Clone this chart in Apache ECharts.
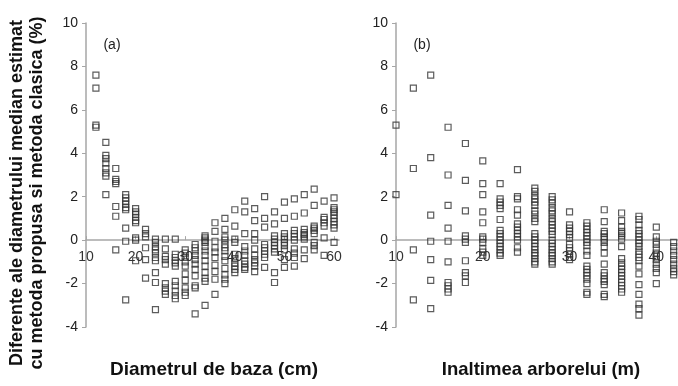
<!DOCTYPE html>
<html>
<head>
<meta charset="utf-8">
<script src="https://cdn.jsdelivr.net/npm/echarts@6/dist/echarts.min.js"></script>
<style>
  html, body { margin: 0; padding: 0; background: #fff; }
  #chart { width: 678px; height: 386px; }
</style>
</head>
<body>
<div id="chart"></div>
<script>
// Panel (a): base diameter classes (cm) and the differences (%) observed in each class
const diameterClasses = [12, 14, 16, 18, 20, 22, 24, 26, 28, 30, 32, 34, 36, 38, 40, 42, 44, 46, 48, 50, 52, 54, 56, 58, 60];
const diameterDiffs = [
  [7.6, 7.0, 5.3, 5.2],
  [4.5, 3.9, 3.75, 3.55, 3.3, 3.1, 2.95, 2.1],
  [3.3, 2.8, 2.7, 2.6, 1.55, 1.1, -0.45],
  [2.1, 1.95, 1.8, 1.65, 1.5, 1.4, 0.55, -0.05, -2.75],
  [1.45, 1.3, 1.2, 1.05, 0.9, 0.8, 0.1, 0.0, -0.95],
  [0.5, 0.3, 0.15, -0.35, -0.9, -1.75],
  [0.05, -0.1, -0.3, -0.45, -0.6, -0.8, -0.95, -1.5, -1.95, -3.2],
  [0.05, -0.4, -0.75, -0.9, -1.1, -2.0, -2.2, -2.35, -2.5],
  [0.05, -0.65, -0.8, -0.95, -1.05, -1.2, -1.9, -2.1, -2.35, -2.55, -2.7],
  [-0.45, -0.6, -0.8, -1.0, -1.2, -1.55, -1.85, -2.2, -2.4, -2.55],
  [-0.2, -0.35, -0.5, -0.7, -0.9, -1.1, -1.35, -1.65, -2.1, -2.2, -3.4],
  [0.2, 0.1, 0.0, -0.1, -0.3, -0.5, -0.7, -0.95, -1.2, -1.5, -1.75, -1.9, -3.0],
  [0.8, 0.4, -0.05, -0.35, -0.55, -0.8, -1.15, -1.45, -1.8, -2.5],
  [1.0, 0.5, 0.15, 0.0, -0.2, -0.35, -0.5, -0.75, -0.95, -1.3, -1.6, -1.8, -2.0],
  [1.4, 0.65, 0.05, -0.1, -0.65, -0.85, -1.05, -1.2, -1.35, -1.5],
  [1.8, 1.3, 0.3, -0.3, -0.5, -0.7, -0.95, -1.1, -1.25, -1.35],
  [1.45, 0.9, 0.3, 0.0, -0.4, -0.7, -0.9, -1.05, -1.2, -1.45],
  [2.0, 1.0, 0.6, -0.2, -0.35, -0.5, -0.65, -0.8, -1.25],
  [1.3, 0.75, 0.2, 0.05, -0.1, -0.25, -0.4, -0.55, -1.5, -1.95],
  [1.75, 1.0, 0.3, 0.15, 0.05, -0.1, -0.25, -0.45, -0.9, -1.25],
  [1.9, 1.1, 0.45, 0.3, 0.15, 0.0, -0.4, -0.6, -0.8, -1.2],
  [2.1, 1.25, 0.5, 0.35, 0.25, 0.15, 0.05, -0.45, -0.85],
  [2.35, 1.6, 0.65, 0.55, 0.45, 0.3, -0.1, -0.25, -0.45],
  [1.8, 1.05, 0.95, 0.8, 0.65, 0.1, -0.7],
  [1.95, 1.5, 1.4, 1.3, 1.15, 1.0, 0.85, 0.7, 0.55, -0.1]
];

// Panel (b): tree height classes (m) and the differences (%) observed in each class
const heightClasses = [10, 12, 14, 16, 18, 20, 22, 24, 26, 28, 30, 32, 34, 36, 38, 40, 42];
const heightDiffs = [
  [5.3, 2.1],
  [7.0, 3.3, -0.45, -2.75],
  [7.6, 3.8, 1.15, -0.05, -0.9, -1.85, -3.15],
  [5.2, 3.0, 1.6, 0.55, -0.05, -1.0, -1.95, -2.1, -2.25, -2.4],
  [4.45, 2.75, 1.35, 0.2, 0.05, -0.1, -0.95, -1.5, -1.65, -1.95],
  [3.65, 2.6, 2.1, 1.3, 0.8, 0.15, 0.05, -0.1, -0.4, -0.55, -0.7],
  [2.6, 1.9, 1.75, 1.6, 1.45, 0.95, 0.45, 0.3, 0.15, 0.0, -0.15, -0.3, -0.45, -0.6, -0.7],
  [3.25, 2.0, 1.9, 1.4, 1.15, 0.75, 0.6, 0.45, 0.3, 0.15, 0.0, -0.35, -0.55],
  [2.4, 2.25, 2.05, 1.9, 1.75, 1.6, 1.35, 1.2, 1.0, 0.85, 0.3, 0.15, 0.0, -0.15, -0.3, -0.45, -0.6, -0.7, -0.85, -1.0, -1.1],
  [2.0, 1.85, 1.7, 1.5, 1.35, 1.2, 1.0, 0.85, 0.7, 0.55, 0.4, 0.25, 0.0, -0.15, -0.3, -0.45, -0.6, -0.7, -0.85, -1.0, -1.1],
  [1.3, 0.7, 0.55, 0.4, 0.25, 0.1, -0.2, -0.35, -0.5, -0.65, -0.8, -0.9],
  [0.8, 0.65, 0.5, 0.35, 0.2, 0.05, -0.1, -0.25, -0.5, -0.7, -1.2, -1.35, -1.5, -1.65, -1.8, -2.0, -2.4, -2.5],
  [1.4, 0.85, 0.4, 0.3, 0.15, 0.05, -0.1, -0.3, -0.6, -1.1, -1.5, -1.65, -1.8, -1.9, -2.05, -2.5, -2.6],
  [1.25, 0.9, 0.6, 0.4, 0.3, 0.2, 0.05, -0.3, -0.85, -1.05, -1.2, -1.35, -1.5, -1.65, -1.8, -1.95, -2.1, -2.25, -2.4],
  [1.1, 0.95, 0.7, 0.45, 0.3, 0.15, 0.0, -0.15, -0.3, -0.5, -0.65, -0.8, -0.95, -1.2, -1.55, -2.05, -2.5, -2.95, -3.15, -3.45],
  [0.6, 0.15, -0.05, -0.2, -0.4, -0.6, -0.75, -0.9, -1.1, -1.3, -1.5, -2.0],
  [-0.1, -0.3, -0.5, -0.7, -0.9, -1.1, -1.3, -1.45, -1.6]
];

// Axis tick labels
const yTicks = [-4, -2, 0, 2, 4, 6, 8, 10];
const diameterTicks = [10, 20, 30, 40, 50, 60];
const heightTicks = [10, 20, 30, 40];

// Text
const yTitle = 'Diferente ale diametrului median estimat\ncu metoda propusa si metoda clasica (%)';
const diameterTitle = 'Diametrul de baza (cm)';
const heightTitle = 'Inaltimea arborelui (m)';

function toPairs(xs, groups) {
  const out = [];
  xs.forEach((x, i) => groups[i].forEach(v => out.push([x, v])));
  return out;
}

const FONT = "'Liberation Sans', Arial, sans-serif";
const axisGrey = '#a6a6a6';
const Y_MIN = -4, Y_MAX = 10;
const GRID_TOP = 23, GRID_H = 304;
// the horizontal axis crosses the vertical one at 0: lift it from the grid bottom to that level
const zeroLift = GRID_H * (0 - Y_MIN) / (Y_MAX - Y_MIN);

function xAxisCfg(gridIndex, min, max, ticks) {
  return {
    type: 'value', gridIndex, min, max,
    offset: -zeroLift,
    axisLine: { onZero: false, lineStyle: { color: axisGrey, width: 1.5 } },
    axisTick: { show: true, inside: true, length: 4, customValues: ticks, lineStyle: { color: axisGrey } },
    axisLabel: { customValues: ticks, margin: 10, fontFamily: FONT, fontSize: 14, color: '#333' },
    splitLine: { show: false }
  };
}
function yAxisCfg(gridIndex) {
  return {
    type: 'value', gridIndex, min: Y_MIN, max: Y_MAX, interval: 2,
    axisLine: { show: true, lineStyle: { color: axisGrey, width: 1.5 } },
    axisTick: { show: true, length: 4, customValues: yTicks, lineStyle: { color: axisGrey } },
    axisLabel: { customValues: yTicks, margin: 8, fontFamily: FONT, fontSize: 14, color: '#222' },
    splitLine: { show: false }
  };
}
function scatter(xIdx, data) {
  return {
    type: 'scatter', xAxisIndex: xIdx, yAxisIndex: xIdx, data,
    symbol: 'rect', symbolSize: 6,
    itemStyle: { color: 'rgba(255,255,255,0)', borderColor: '#333', borderWidth: 1.2 },
    silent: true, animation: false
  };
}

const chart = echarts.init(document.getElementById('chart'), null, { renderer: 'canvas' });
chart.setOption({
  animation: false,
  backgroundColor: '#fff',
  grid: [
    { left: 86, top: GRID_TOP, width: 253, height: GRID_H },
    { left: 396, top: GRID_TOP, width: 282, height: GRID_H }
  ],
  xAxis: [xAxisCfg(0, 10, 61, diameterTicks), xAxisCfg(1, 10, 42.5, heightTicks)],
  yAxis: [yAxisCfg(0), yAxisCfg(1)],
  series: [
    scatter(0, toPairs(diameterClasses, diameterDiffs)),
    scatter(1, toPairs(heightClasses, heightDiffs))
  ],
  graphic: [
    { type: 'text', x: 27, y: 193, rotation: Math.PI / 2,
      style: { text: yTitle, font: 'bold 18px ' + FONT, fill: '#111', align: 'center', verticalAlign: 'middle', lineHeight: 20 } },
    { type: 'text', x: 214, y: 370,
      style: { text: diameterTitle, font: 'bold 19px ' + FONT, fill: '#111', align: 'center', verticalAlign: 'middle' } },
    { type: 'text', x: 541, y: 370,
      style: { text: heightTitle, font: 'bold 18.5px ' + FONT, fill: '#111', align: 'center', verticalAlign: 'middle' } },
    { type: 'text', x: 112, y: 45,
      style: { text: '(a)', font: '14px ' + FONT, fill: '#222', align: 'center', verticalAlign: 'middle' } },
    { type: 'text', x: 422, y: 45,
      style: { text: '(b)', font: '14px ' + FONT, fill: '#222', align: 'center', verticalAlign: 'middle' } }
  ]
});
</script>
</body>
</html>
